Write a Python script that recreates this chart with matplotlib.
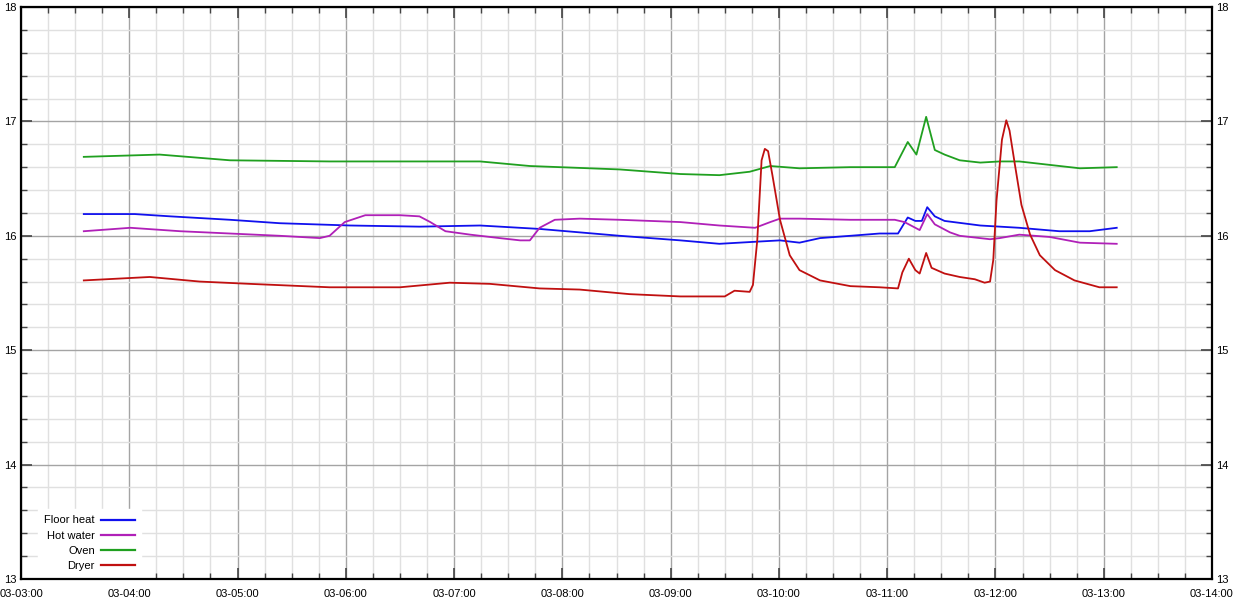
import matplotlib
matplotlib.use("Agg")
import matplotlib.pyplot as plt
import matplotlib.dates as mdates
from matplotlib.ticker import MultipleLocator
from matplotlib.lines import Line2D
import datetime as dt

# ---- data (hours of day 03, value) ----
oven_h = [3.58, 4.28, 4.93, 5.85, 7.24, 7.70, 8.53, 9.09, 9.45, 9.73, 9.92, 10.19, 10.66, 11.07,
          11.19, 11.27, 11.36, 11.44, 11.53, 11.67, 11.86, 12.04, 12.22, 12.50, 12.78, 13.12]
oven_v = [16.69, 16.71, 16.66, 16.65, 16.65, 16.61, 16.58, 16.54, 16.53, 16.56, 16.61, 16.59, 16.60, 16.60,
          16.82, 16.71, 17.04, 16.75, 16.71, 16.66, 16.64, 16.65, 16.65, 16.62, 16.59, 16.60]

floor_h = [3.58, 4.05, 4.38, 4.93, 5.39, 6.04, 6.68, 7.24, 7.79, 8.16, 8.53, 9.09, 9.45, 9.82, 10.01,
           10.19, 10.38, 10.66, 10.93, 11.10, 11.19, 11.26, 11.32, 11.37, 11.44, 11.53, 11.86, 12.22,
           12.59, 12.87, 13.12]
floor_v = [16.19, 16.19, 16.17, 16.14, 16.11, 16.09, 16.08, 16.09, 16.06, 16.03, 16.00, 15.96, 15.93, 15.95, 15.96,
           15.94, 15.98, 16.00, 16.02, 16.02, 16.16, 16.13, 16.13, 16.25, 16.17, 16.13, 16.09, 16.07,
           16.04, 16.04, 16.07]

hot_h = [3.58, 4.01, 4.47, 4.93, 5.39, 5.76, 5.85, 5.99, 6.18, 6.50, 6.68, 6.78, 6.92, 7.15, 7.42, 7.61,
         7.70, 7.79, 7.93, 8.16, 8.53, 9.09, 9.45, 9.78, 9.92, 10.01, 10.19, 10.66, 11.07, 11.16, 11.30,
         11.37, 11.44, 11.58, 11.67, 11.95, 12.04, 12.22, 12.50, 12.78, 13.12]
hot_v = [16.04, 16.07, 16.04, 16.02, 16.00, 15.98, 16.00, 16.12, 16.18, 16.18, 16.17, 16.12, 16.04, 16.01, 15.98, 15.96,
         15.96, 16.07, 16.14, 16.15, 16.14, 16.12, 16.09, 16.07, 16.12, 16.15, 16.15, 16.14, 16.14, 16.12, 16.05,
         16.19, 16.10, 16.03, 16.00, 15.97, 15.98, 16.01, 15.99, 15.94, 15.93]

dryer_h = [3.58, 4.19, 4.65, 5.11, 5.85, 6.50, 6.96, 7.33, 7.79, 8.16, 8.62, 9.09, 9.50, 9.59, 9.73, 9.76,
           9.80, 9.84, 9.87, 9.90, 9.94, 10.01, 10.10, 10.19, 10.38, 10.66, 10.93, 11.10, 11.14, 11.20,
           11.26, 11.30, 11.36, 11.41, 11.53, 11.67, 11.81, 11.90, 11.95, 11.98, 12.01, 12.06, 12.10,
           12.13, 12.18, 12.24, 12.32, 12.41, 12.55, 12.73, 12.96, 13.12]
dryer_v = [15.61, 15.64, 15.60, 15.58, 15.55, 15.55, 15.59, 15.58, 15.54, 15.53, 15.49, 15.47, 15.47, 15.52, 15.51, 15.57,
           15.96, 16.66, 16.76, 16.74, 16.53, 16.14, 15.83, 15.70, 15.61, 15.56, 15.55, 15.54, 15.68, 15.80,
           15.70, 15.67, 15.85, 15.72, 15.67, 15.64, 15.62, 15.59, 15.60, 15.79, 16.31, 16.84, 17.01,
           16.92, 16.62, 16.27, 16.01, 15.83, 15.70, 15.61, 15.55, 15.55]

series_names = ["Floor heat", "Hot water", "Oven", "Dryer"]
series_colors = ["#1010ee", "#b020b8", "#20a020", "#c01010"]

base = dt.datetime(2024, 1, 3)
def to_dt(hours):
    return [base + dt.timedelta(hours=h) for h in hours]

plt.rcParams['font.family'] = ['Liberation Sans', 'DejaVu Sans']

fig = plt.figure(figsize=(12.35, 6.06), dpi=100)
ax = fig.add_axes([21/1235, 1 - 579/606, (1212 - 21)/1235, (579 - 7)/606])

data = [(floor_h, floor_v), (hot_h, hot_v), (oven_h, oven_v), (dryer_h, dryer_v)]
for (h, v), c in zip(data, series_colors):
    ax.plot(to_dt(h), v, color=c, lw=1.3, zorder=3)

ax.set_xlim(base + dt.timedelta(hours=3), base + dt.timedelta(hours=14))
ax.set_ylim(13, 18)

ax.xaxis.set_major_locator(mdates.HourLocator(interval=1))
ax.xaxis.set_minor_locator(mdates.MinuteLocator(byminute=[15, 30, 45]))
ax.xaxis.set_major_formatter(mdates.DateFormatter('%d-%H:%M'))
ax.yaxis.set_major_locator(MultipleLocator(1))
ax.yaxis.set_minor_locator(MultipleLocator(0.2))

ax.grid(which='major', color='#a4a4a4', lw=1.0, zorder=0)
ax.grid(which='minor', color='#e0e0e0', lw=1.0, zorder=0)
ax.set_axisbelow(True)

for s in ax.spines.values():
    s.set_linewidth(1.6)
    s.set_color('black')
    s.set_zorder(6)

ax.tick_params(which='both', direction='in', labelsize=8, color='#444444',
               left=True, right=True, top=True, bottom=True, labelright=True)
ax.tick_params(which='major', length=8, width=1.2, pad=3)
ax.tick_params(which='minor', length=4, width=1.0)
ax.tick_params(axis='x', which='major', pad=7)

handles = [Line2D([0], [0], color=c, lw=1.6) for c in series_colors]
leg = ax.legend(handles, series_names, loc='lower right',
                bbox_to_anchor=(147/1235, 23/606), bbox_transform=fig.transFigure,
                markerfirst=False, frameon=True, fontsize=8, handlelength=3.05,
                handletextpad=0.55, labelspacing=0.46, borderpad=0.6)
leg.get_frame().set_facecolor('white')
leg.get_frame().set_edgecolor('white')
leg.get_frame().set_alpha(1.0)
leg.get_frame().set_boxstyle('square', pad=0)
leg.set_zorder(5)

fig.savefig("out.png", dpi=100, facecolor='white')
